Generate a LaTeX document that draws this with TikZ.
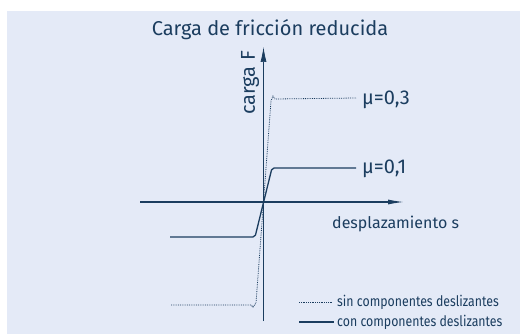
\documentclass[tikz,border=0pt]{standalone}
\usepackage{fontspec}
\setmainfont{Fira Sans}
\newfontfamily\narrowfont[FakeStretch=0.85]{Fira Sans}
\usetikzlibrary{arrows.meta}
\definecolor{navy}{HTML}{1B3D5F}
\definecolor{paleblue}{HTML}{E4EAF7}
\tikzset{
  xaxis/.style={navy, line width=1.2pt, -{Latex[length=16pt,width=5pt]}},
  yaxis/.style={navy, line width=0.7pt, -{Latex[length=15pt,width=6pt]}},
  sinline/.style={navy, line width=0.8pt, densely dotted},
  conline/.style={navy, line width=1.3pt, rounded corners=2pt},
  lbl/.style={text=navy, inner sep=0pt, font=\fontsize{16}{18}\selectfont},
  biglbl/.style={lbl, font=\fontsize{20}{22}\selectfont},
  legtext/.style={text=navy, inner sep=0pt, anchor=west, font=\narrowfont\fontsize{14.5}{16}\selectfont},
}
\begin{document}
\begin{tikzpicture}[x=1pt,y=-1pt]
 \fill[white](0,0) rectangle (520,334);
 \fill[paleblue](7,11) rectangle (520,334);
 \useasboundingbox (0,0) rectangle (520,334);
 % axes
 \coordinate (xl) at (140,202);
 \coordinate (xr) at (404,202);
 \coordinate (yb) at (263.5,321);
 \coordinate (yt) at (263.5,47);
 \draw[xaxis](xl)--(xr);
 \draw[yaxis](yb)--(yt);
 \node[biglbl] (title) at (270,30) {Carga de fricción reducida};
 \node[biglbl, rotate=90] (cargaF) at (250,83) {carga F};
 \node[lbl, anchor=west] (despl) at (332,224) {desplazamiento s};
 % curves
 \coordinate (sinend) at (356,98);
 \coordinate (conend) at (356,168);
 \draw[sinline](171,305)--(251,305)--(253,307)--(256,303)--(271,101)--(273,96)--(275,99)--(sinend);
 \draw[conline](170,237)--(255,237)--(272,168)--(conend);
 \node[biglbl, anchor=west] (mu3) at (362,100) {µ=0,3};
 \node[biglbl, anchor=west] (mu1) at (362,169) {µ=0,1};
 % legend
 \coordinate (sina) at (299,302);
 \coordinate (sinb) at (333,302);
 \coordinate (cona) at (299,322);
 \coordinate (conb) at (334,322);
 \draw[sinline](sina)--(sinb);
 \draw[navy, line width=1.3pt](cona)--(conb);
 \node[legtext] (sintext) at (337,302) {sin componentes deslizantes};
 \node[legtext] (context) at (337,322) {con componentes deslizantes};
\end{tikzpicture}
\end{document}
